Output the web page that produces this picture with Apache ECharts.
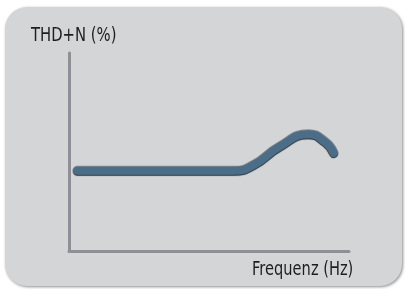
<!DOCTYPE html>
<html>
<head>
<meta charset="utf-8">
<script src="https://cdn.jsdelivr.net/npm/echarts@6/dist/echarts.min.js"></script>
<style>
  html, body { margin: 0; padding: 0; background: #fff; }
  #chart { width: 405px; height: 289px; }
</style>
</head>
<body>
<div id="chart"></div>
<script>
// curve (x: 0-100 along the frequency axis, y: 0-100 up the THD+N axis)
const freq = [3, 30, 59, 66, 75, 85.5, 91.5, 94.5];
const thd  = [40.5, 40.5, 40.5, 43.5, 52.5, 59, 55, 49.5];
const yLabel = 'THD+N (%)';
const xLabel = 'Frequenz (Hz)';

const points = freq.map((f, i) => [f, thd[i]]);
const font = '19px "DejaVu Sans", sans-serif';

const myChart = echarts.init(document.getElementById('chart'));
myChart.setOption({
    animation: false,
    grid: { left: 69, right: 56, top: 53, bottom: 38 },
    xAxis: {
        type: 'value', min: 0, max: 100,
        axisLine: { show: true, lineStyle: { color: '#8e9095', width: 3 } },
        axisTick: { show: false }, axisLabel: { show: false }, splitLine: { show: false }
    },
    yAxis: {
        type: 'value', min: 0, max: 100,
        axisLine: { show: true, lineStyle: { color: '#8e9095', width: 3 } },
        axisTick: { show: false }, axisLabel: { show: false }, splitLine: { show: false }
    },
    graphic: [
        {
            type: 'rect', z: -10, silent: true,
            shape: { x: 5, y: 7, width: 397, height: 279, r: 22 },
            style: { fill: '#d4d5d7', shadowColor: 'rgba(0,0,0,0.45)', shadowBlur: 3, shadowOffsetX: 1, shadowOffsetY: 1 }
        },
        {
            type: 'text', x: 31, y: 27, scaleX: 0.78,
            style: { text: yLabel, font: font, fill: '#1e1e1e' }
        },
        {
            type: 'text', x: 252, y: 261, scaleX: 0.77,
            style: { text: xLabel, font: font, fill: '#1e1e1e' }
        }
    ],
    series: [
        {
            type: 'line', data: points, smooth: 0.5, symbol: 'none',
            lineStyle: { color: '#85898e', width: 10, cap: 'round' }
        },
        {
            type: 'line', data: points, smooth: 0.5, symbol: 'none',
            lineStyle: { color: '#4b6d88', width: 8, cap: 'round',
                shadowColor: 'rgba(20,35,50,0.8)', shadowBlur: 1, shadowOffsetY: 1 }
        }
    ]
});
</script>
</body>
</html>
